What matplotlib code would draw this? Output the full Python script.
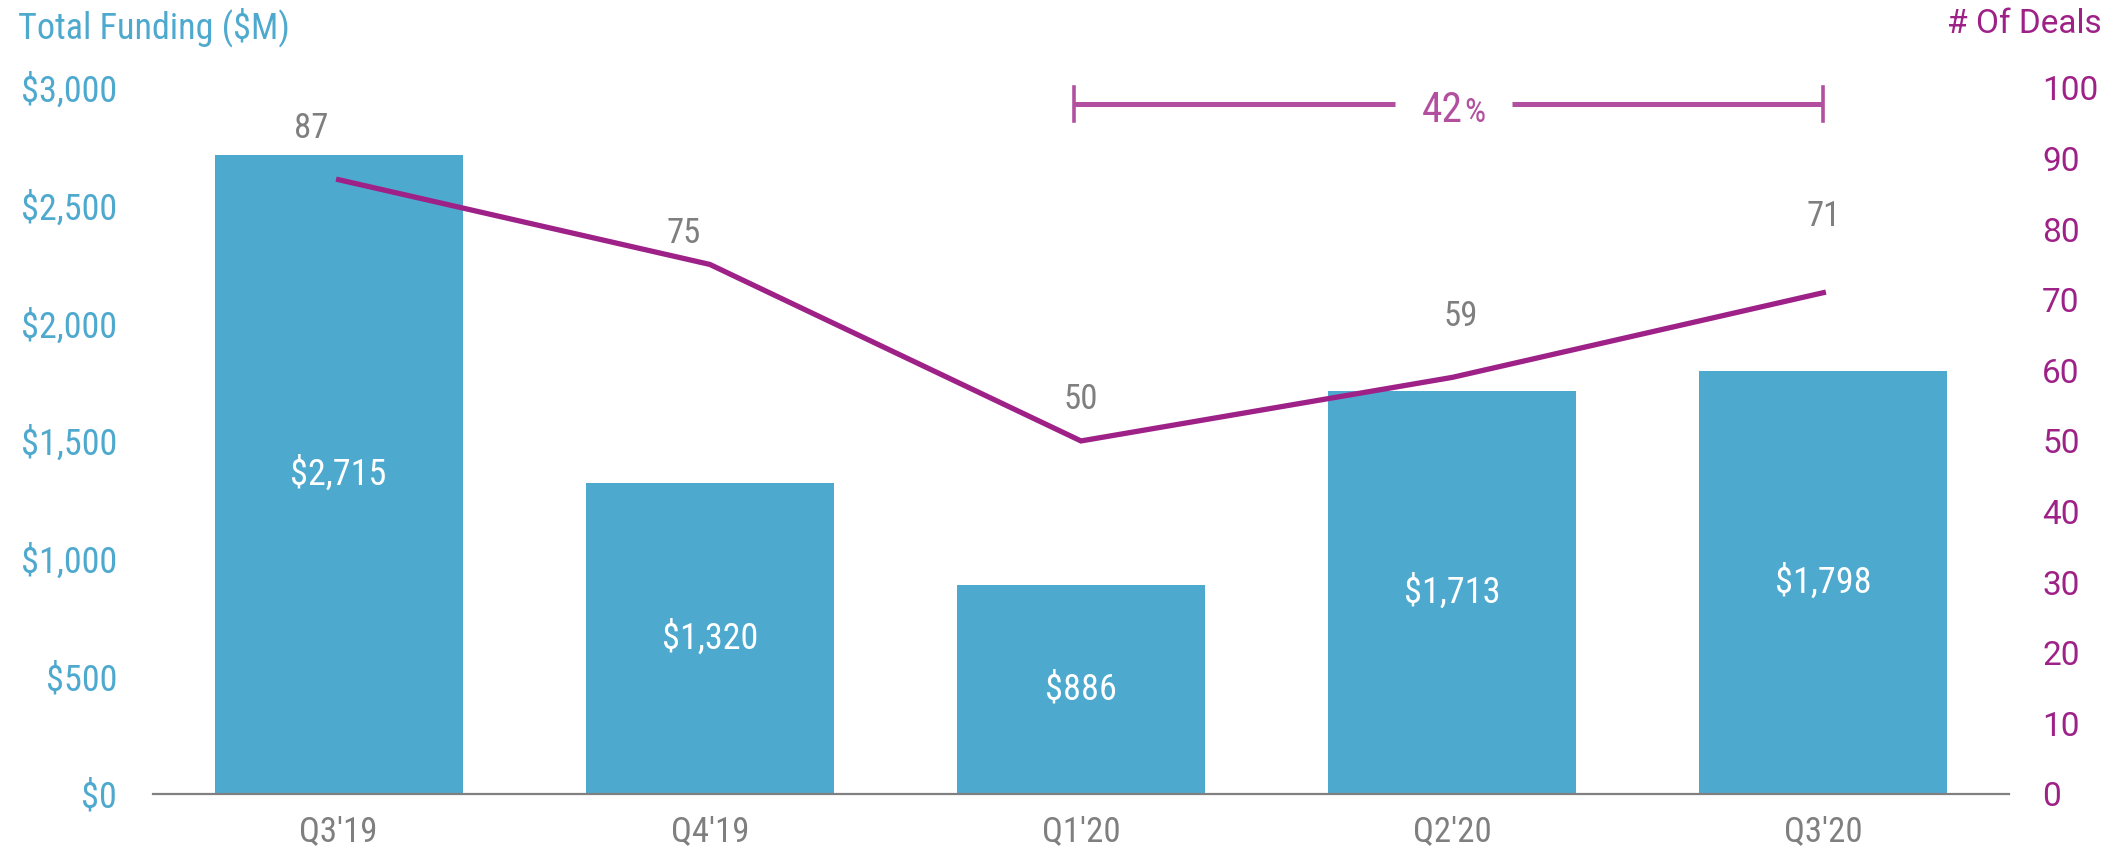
import matplotlib.pyplot as plt
from matplotlib import font_manager

quarters = ["Q3'19", "Q4'19", "Q1'20", "Q2'20", "Q3'20"]
funding = [2715, 1320, 886, 1713, 1798]
deals = [87, 75, 50, 59, 71]
funding_ticks = [0, 500, 1000, 1500, 2000, 2500, 3000]
deal_ticks = [0, 10, 20, 30, 40, 50, 60, 70, 80, 90, 100]
change_pct = 42

# offsets (points) of the deal count labels from their markers
deal_label_offsets = [(-20, 37), (-19, 22), (0, 30), (6, 44), (0, 55)]

BLUE = '#4EA9CF'
PURPLE = '#9E2188'
BRACKET = '#B2509F'
GREY = '#7F7F7F'

names = {f.name for f in font_manager.fontManager.ttflist}
narrow = 'Roboto Condensed' if 'Roboto Condensed' in names else 'Roboto'
plt.rcParams['font.family'] = [narrow, 'DejaVu Sans']

fig = plt.figure(figsize=(21.2, 8.51), dpi=100)
ax = fig.add_axes([0.0722, 0.067, 0.8754, 0.8297])
x = list(range(len(quarters)))

ax.bar(x, funding, width=0.668, color=BLUE, zorder=2)
for xi, v in zip(x, funding):
    ax.text(xi, v / 2, f'${v:,}', ha='center', va='center', color='white', fontsize=26)

ax.set_xlim(-0.5, 4.5)
ax.set_ylim(0, 3000)
ax.set_yticks(funding_ticks)
ax.set_yticklabels([f'${t:,}' for t in funding_ticks])
ax.set_xticks(x)
ax.set_xticklabels(quarters)
ax.tick_params(axis='y', length=0, pad=26, labelsize=26, labelcolor=BLUE)
ax.tick_params(axis='x', length=0, pad=15, labelsize=25, labelcolor=GREY)
for s in ['top', 'left', 'right']:
    ax.spines[s].set_visible(False)
ax.spines['bottom'].set_color('#808080')
ax.spines['bottom'].set_linewidth(1.6)

ax2 = ax.twinx()
ax2.plot(x, deals, color=PURPLE, linewidth=3.8, solid_joinstyle='miter', zorder=3)
for xi, v, off in zip(x, deals, deal_label_offsets):
    ax2.annotate(str(v), (xi, v), xytext=off, textcoords='offset points',
                 ha='center', va='center', color=GREY, fontsize=25)
ax2.set_ylim(0, 100)
ax2.set_yticks(deal_ticks)
ax2.tick_params(axis='y', length=0, pad=24, labelsize=24, labelcolor=PURPLE)
for lbl in ax2.get_yticklabels():
    lbl.set_family(['Roboto', 'DejaVu Sans'])
for s in ax2.spines.values():
    s.set_visible(False)

# change bracket from Q1'20 to Q3'20
by, bh = 97.7, 2.4
ax2.plot([1.98, 2.845], [by, by], color=BRACKET, linewidth=3.6, solid_capstyle='butt', clip_on=False)
ax2.plot([3.16, 4.0], [by, by], color=BRACKET, linewidth=3.6, solid_capstyle='butt', clip_on=False)
ax2.plot([1.98, 1.98], [by - bh, by + bh], color=BRACKET, linewidth=2.6, clip_on=False)
ax2.plot([4.0, 4.0], [by - bh, by + bh], color=BRACKET, linewidth=2.6, clip_on=False)
ax2.text(3.03, 95.2, str(change_pct), ha='right', va='baseline', color=BRACKET, fontsize=30)
ax2.text(3.032, 95.2, '%', ha='left', va='baseline', color=BRACKET, fontsize=24)

fig.text(18 / 2120, 1 - 27 / 851, 'Total Funding ($M)', ha='left', va='center', color=BLUE, fontsize=26)
fig.text(2102 / 2120, 1 - 24 / 851, '# Of Deals', ha='right', va='center', color=PURPLE,
         fontsize=24, family=['Roboto', 'DejaVu Sans'])

fig.savefig('out.png', dpi=100)
